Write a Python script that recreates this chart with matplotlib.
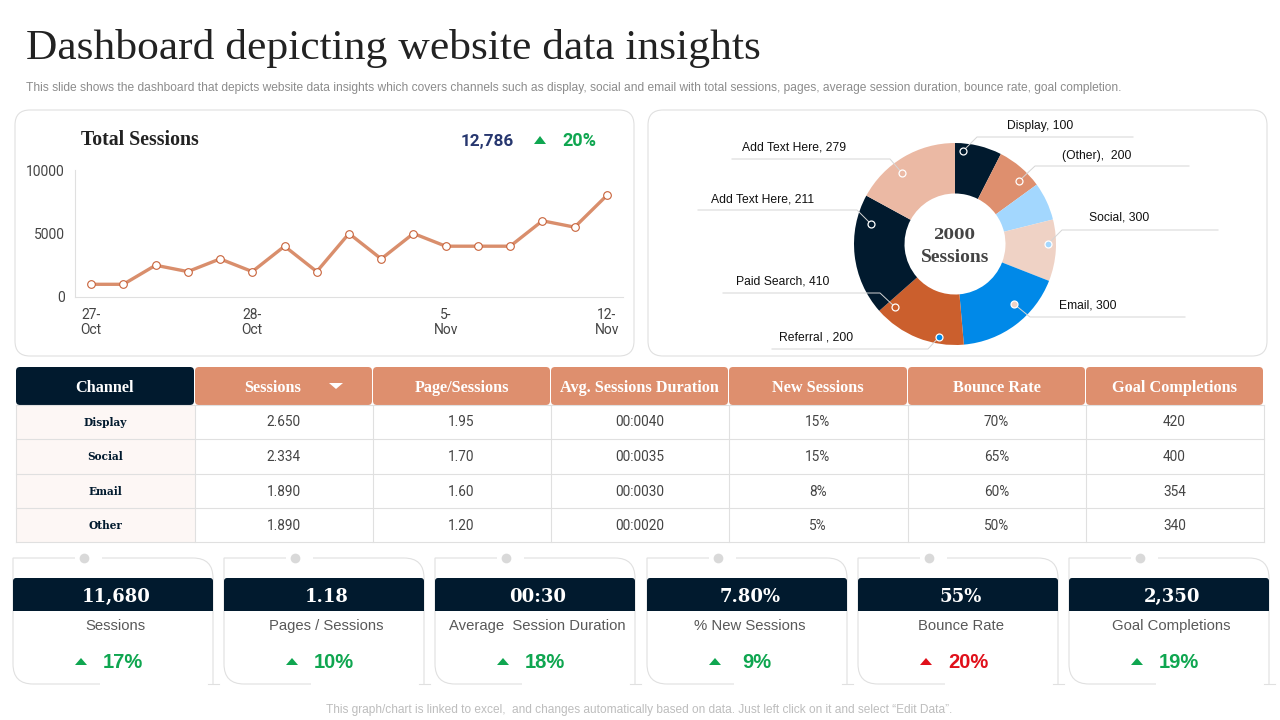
import matplotlib
matplotlib.use('Agg')
import matplotlib.pyplot as plt
from matplotlib.patches import FancyBboxPatch, Rectangle, PathPatch, Polygon
from matplotlib.path import Path

# Line chart data
dates = ['27-\nOct', '', '', '', '', '28-\nOct', '', '', '', '', '', '5-\nNov', '', '', '', '', '12-\nNov']
total_sessions = [1000, 1000, 2500, 2000, 3000, 2000, 4000, 2000, 5000, 3000, 5000, 4000, 4000, 4000, 6000, 5500, 8000]

# Donut data (slice sizes, the labels say something else)
slice_sizes = [150, 150, 122, 197, 353, 298, 389, 341]
slice_colors = ['#011A2E', '#DE8F6E', '#A3D7FE', '#EFD2C5', '#0089E8', '#CB5F2D', '#011A2E', '#EBB9A4']

# Table data
table_header = ['Channel', 'Sessions', 'Page/Sessions', 'Avg. Sessions Duration', 'New Sessions', 'Bounce Rate', 'Goal Completions']
channels = ['Display', 'Social', 'Email', 'Other']
sessions = ['2.650', '2.334', '1.890', '1.890']
page_sessions = ['1.95', '1.70', '1.60', '1.20']
durations = ['00:0040', '00:0035', '00:0030', '00:0020']
new_sessions = ['15%', '15%', '8%', '5%']
bounce_rates = ['70%', '65%', '60%', '50%']
goal_completions = ['420', '400', '354', '340']

# KPI cards
kpi_values = ['11,680', '1.18', '00:30', '7.80%', '55%', '2,350']
kpi_names = ['Sessions', 'Pages / Sessions', 'Average  Session Duration', '% New Sessions', 'Bounce Rate', 'Goal Completions']
kpi_changes = ['17%', '10%', '18%', '9%', '20%', '19%']

DARK = '#011A2E'
ORANGE = '#DE8F6E'
GREEN = '#0FA650'
RED = '#E0101A'
GRID = '#E0E0E0'
SERIF = 'Liberation Serif'
WIDE_SERIF = 'DejaVu Serif'
SANS = 'Liberation Sans'
NARROW = 'Roboto'

W, H = 1280, 720
fig = plt.figure(figsize=(W / 100, H / 100), dpi=100, facecolor='white')


def px_axes(left, top, right, bottom, z):
    ax = fig.add_axes([left / W, 1 - bottom / H, (right - left) / W, (bottom - top) / H], zorder=z)
    return ax


# Two pixel layers, one under the charts and one above
bg = px_axes(0, 0, W, H, 0)
fg = px_axes(0, 0, W, H, 3)
for a in (bg, fg):
    a.set_xlim(0, W)
    a.set_ylim(H, 0)
    a.axis('off')

# Title and notes
bg.text(26, 49, 'Dashboard depicting website data insights', family=SERIF, fontsize=31.3, color='#222222', va='center')
bg.text(26, 88.5, 'This slide shows the dashboard that depicts website data insights which covers channels such as display, '
        'social and email with total sessions, pages, average session duration, bounce rate, goal completion.',
        family=SANS, fontsize=8.65, color='#8C8C8C', va='center')
bg.text(639, 709.5, 'This graph/chart is linked to excel,  and changes automatically based on data. Just left click on it and select \u201cEdit Data\u201d.',
        family=SANS, fontsize=8.6, color='#BDBDBD', va='center', ha='center')

# Panels
for x0, x1 in [(15, 634), (648, 1267)]:
    bg.add_patch(FancyBboxPatch((x0 + 15, 125), x1 - x0 - 30, 216, boxstyle='round,pad=15,rounding_size=15',
                                fc='white', ec=GRID, lw=0.8))

# Total sessions panel
bg.text(81, 140, 'Total Sessions', family=SERIF, fontsize=14.3, weight='bold', color='#222222', va='center')
bg.text(487, 141.5, '12,786', family=NARROW, fontsize=12.3, weight='bold', color='#27376F', va='center', ha='center')
bg.add_patch(Polygon([(534, 144), (546, 144), (540, 136)], fc=GREEN, ec='none'))
bg.text(579, 141.5, '20%', family=NARROW, fontsize=13, weight='bold', color=GREEN, va='center', ha='center')

ax = px_axes(75, 170, 623, 297, 1)
ax.patch.set_visible(False)
ax.plot(range(len(total_sessions)), total_sessions, color='#D98E6C', lw=2.4, marker='o', ms=5.5,
        mfc='white', mec='#C8623A', mew=0.8, clip_on=False)
ax.set_xlim(-0.5, len(total_sessions) - 0.5)
ax.set_ylim(0, 10000)
ax.set_yticks([0, 5000, 10000])
ax.set_xticks(range(len(dates)))
ax.set_xticklabels(dates, family=NARROW, fontsize=10, color='#444444', linespacing=1.05)
for lab in ax.get_yticklabels():
    lab.set_family(NARROW)
    lab.set_fontsize(10)
    lab.set_color('#444444')
ax.tick_params(length=0, pad=8)
ax.tick_params(axis='y', pad=7.5)
for s in ('top', 'right'):
    ax.spines[s].set_visible(False)
for s in ('left', 'bottom'):
    ax.spines[s].set_color(GRID)
    ax.spines[s].set_linewidth(0.8)

# Donut
pie_ax = px_axes(854, 143, 1056, 345, 1)
pie_ax.pie(slice_sizes, colors=slice_colors, startangle=90, counterclock=False, radius=1,
           wedgeprops={'width': 0.5, 'linewidth': 0})
pie_ax.set_xlim(-1, 1)
pie_ax.set_ylim(-1, 1)
fg.text(955, 235, '2000', family=WIDE_SERIF, fontsize=10.8, weight='bold', color='#444444', ha='center', va='center')
fg.text(955, 258, 'Sessions', family=SERIF, fontsize=14, weight='bold', color='#444444', ha='center', va='center')

donut_labels = ['Display, 100', '(Other),  200', 'Social, 300', 'Email, 300',
                'Referral , 200', 'Paid Search, 410', 'Add Text Here, 211', 'Add Text Here, 279']
label_pos = [(1040, 126), (1097, 156), (1119, 218), (1088, 306), (816, 338), (783, 282), (763, 200), (794, 148)]
leaders = [
    [(963, 151), (977, 137), (1133, 137)],
    [(1019, 181), (1035, 166), (1189, 166)],
    [(1048, 244), (1062, 230), (1218, 230)],
    [(1014, 304), (1030, 317), (1185, 317)],
    [(939, 337), (928, 349), (772, 349)],
    [(895, 307), (880, 293), (723, 293)],
    [(871, 224), (857, 210), (698, 210)],
    [(902, 173), (890, 159), (732, 159)],
]
dot_faces = ['#011A2E', '#DE8F6E', '#A3D7FE', '#EFD2C5', '#0089E8', '#CB5F2D', '#011A2E', '#EBB9A4']
for name, pos, pts, face in zip(donut_labels, label_pos, leaders, dot_faces):
    fg.text(pos[0], pos[1], name, family=SANS, fontsize=8.7, color='#111111', ha='center', va='center')
    fg.plot([p[0] for p in pts], [p[1] for p in pts], color='#D5D5D5', lw=0.7, zorder=1)
    fg.plot(pts[0][0], pts[0][1], 'o', ms=5, mfc=face, mec='white', mew=0.9, zorder=2)

# Table
col_edges = [16, 195, 373, 551, 729, 908, 1086, 1264]
row_edges = [405, 439, 474, 508, 542]
columns = [channels, sessions, page_sessions, durations, new_sessions, bounce_rates, goal_completions]

for i, head in enumerate(table_header):
    x0, x1 = col_edges[i], col_edges[i + 1]
    bg.add_patch(FancyBboxPatch((x0 + 3, 370), x1 - x0 - 7, 32, boxstyle='round,pad=3,rounding_size=4',
                                fc=DARK if i == 0 else ORANGE, ec='none'))
    tx = (x0 + x1) / 2 - (11 if i == 1 else 0)
    bg.text(tx - 0.5, 388, head, family=SERIF, fontsize=11.7, weight='bold', color='white', ha='center', va='center')
bg.add_patch(Polygon([(329, 383), (343, 383), (336, 389)], fc='white', ec='none'))

bg.add_patch(Rectangle((col_edges[0], row_edges[0]), col_edges[1] - col_edges[0], row_edges[-1] - row_edges[0],
                       fc='#FDF7F5', ec='none'))
for y in row_edges:
    bg.plot([col_edges[0], col_edges[-1]], [y, y], color=GRID, lw=0.8)
for x in col_edges:
    bg.plot([x, x], [row_edges[0], row_edges[-1]], color=GRID, lw=0.8)

for c, col in enumerate(columns):
    xc = (col_edges[c] + col_edges[c + 1]) / 2
    for r, val in enumerate(col):
        yc = (row_edges[r] + row_edges[r + 1]) / 2
        if c == 0:
            bg.text(xc, yc + 0.5, val, family=WIDE_SERIF, fontsize=7.6, weight='bold', color=DARK, ha='center', va='center')
        else:
            bg.text(xc - 0.5, yc + 0.5, val, family=NARROW, fontsize=9.8, color='#444444', ha='center', va='center')

# KPI cards
card_lefts = [13, 224, 435, 647, 858, 1069]
for i, left in enumerate(card_lefts):
    top, bottom, right = 558, 684, left + 200
    verts = [(left + 62, top), (left, top), (left, bottom - 20), (left, bottom), (left + 20, bottom), (left + 87, bottom)]
    codes = [Path.MOVETO, Path.LINETO, Path.LINETO, Path.CURVE3, Path.CURVE3, Path.LINETO]
    bg.add_patch(PathPatch(Path(verts, codes), fc='none', ec=GRID, lw=0.8))
    verts = [(left + 89, top), (right - 20, top), (right, top), (right, top + 20), (right, bottom)]
    codes = [Path.MOVETO, Path.LINETO, Path.CURVE3, Path.CURVE3, Path.LINETO]
    bg.add_patch(PathPatch(Path(verts, codes), fc='none', ec=GRID, lw=0.8))
    bg.plot([right - 5, right + 6], [bottom, bottom], color=GRID, lw=0.8)
    bg.plot(left + 71, top - 0.5, 'o', ms=7, color='#D9D9D9', mew=0)

    bg.add_patch(FancyBboxPatch((left + 3, 581), 194, 27, boxstyle='round,pad=3,rounding_size=3', fc=DARK, ec='none'))
    bg.add_patch(Rectangle((left, 595), 200, 16, fc=DARK, ec='none'))
    bg.text(left + 103, 597, kpi_values[i], family=WIDE_SERIF, fontsize=13, weight='bold', color='white', ha='center', va='center')
    bg.text(left + 102.5, 626, kpi_names[i], family=SANS, fontsize=10.7, color='#595959', ha='center', va='center')

    color = RED if kpi_names[i] == 'Bounce Rate' else GREEN
    bg.add_patch(Polygon([(left + 62, 665), (left + 74, 665), (left + 68, 658)], fc=color, ec='none'))
    bg.text(left + 110, 663, kpi_changes[i], family=SANS, fontsize=14.5, weight='bold', color=color, ha='center', va='center')

fig.savefig('out.png', dpi=100)
